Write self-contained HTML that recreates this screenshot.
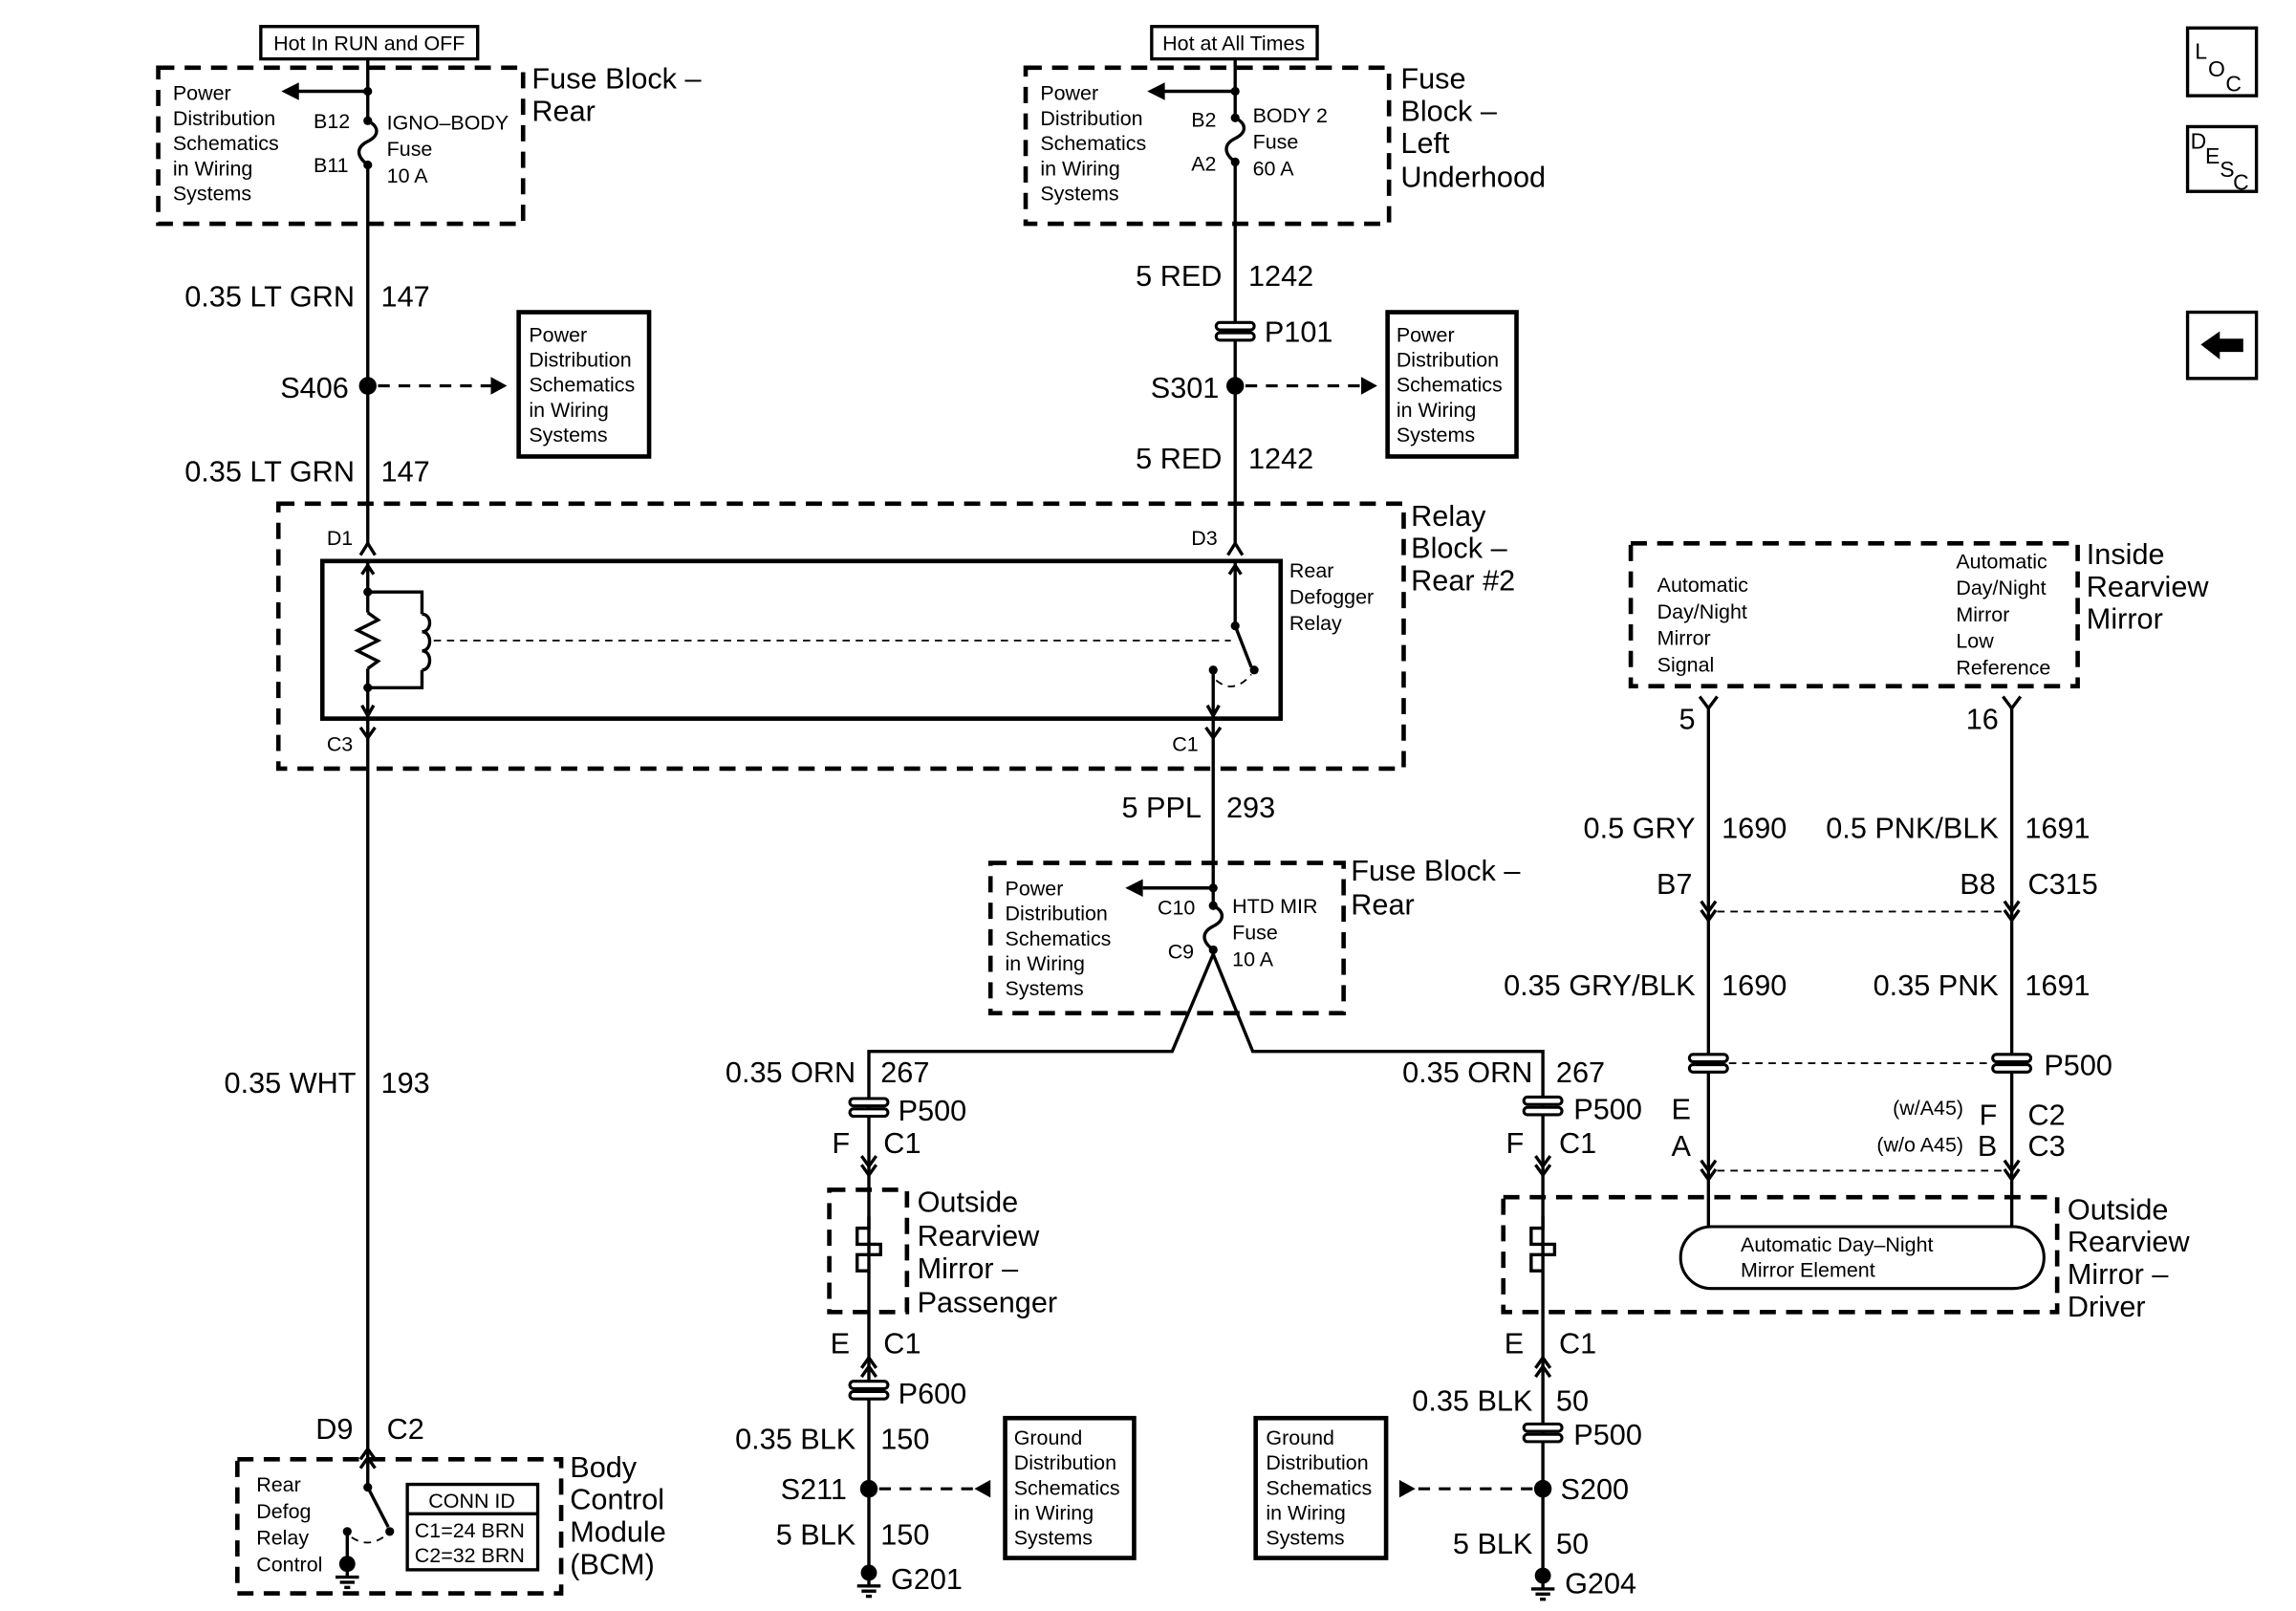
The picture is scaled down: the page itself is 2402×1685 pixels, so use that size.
<!DOCTYPE html>
<html><head><meta charset="utf-8"><style>
html,body{margin:0;padding:0;background:#fff}
svg{display:block}
text{font-family:"Liberation Sans",Arial,sans-serif;fill:#000}
.L{font-size:20px}
.S{font-size:14px}
.M{font-size:15px}
.w{stroke:#000;stroke-width:2.2;fill:none}
.d{stroke:#000;stroke-width:3;fill:none;stroke-dasharray:11 7}
.dl{stroke:#000;stroke-width:2;fill:none;stroke-dasharray:8 6}
.ds{stroke:#000;stroke-width:1.2;fill:none;stroke-dasharray:5 4}
.b{stroke:#000;stroke-width:3;fill:#fff}
.p{stroke:#000;stroke-width:2;fill:#fff}
</style></head><body>
<svg width="2402" height="1685" viewBox="0 0 1567 1094" preserveAspectRatio="none" xmlns="http://www.w3.org/2000/svg">
<defs>
<g id="pc"><rect x="-13" y="-6" width="26" height="5" rx="2.5" class="p"/><rect x="-13" y="1" width="26" height="5" rx="2.5" class="p"/></g>
<g id="cd"><polyline points="-5,-7 0,0 5,-7" class="w"/><polyline points="-5,-1 0,6 5,-1" class="w"/></g>
<g id="cu"><polyline points="-5,7 0,0 5,7" class="w"/><polyline points="-5,1 0,-6 5,1" class="w"/></g>
<g id="gnd"><circle r="5.5" cx="0" cy="0" fill="#000"/><line x1="0" y1="0" x2="0" y2="9" class="w"/><line x1="-8" y1="9" x2="8" y2="9" class="w"/><line x1="-5" y1="12.5" x2="5" y2="12.5" class="w" stroke-width="1.6"/><line x1="-2" y1="16" x2="2" y2="16" class="w" stroke-width="1.6"/></g>
</defs>

<!-- ===== Top left ===== -->
<rect x="178" y="18" width="148" height="22" class="w"/>
<text x="252" y="34" class="S" text-anchor="middle">Hot In RUN and OFF</text>
<rect x="108" y="46" width="249" height="106" class="d"/>
<text class="S" x="118" y="68">Power</text><text class="S" x="118" y="85">Distribution</text><text class="S" x="118" y="102">Schematics</text><text class="S" x="118" y="119">in Wiring</text><text class="S" x="118" y="136">Systems</text>
<line x1="251" y1="40" x2="251" y2="82" class="w"/>
<path d="M251,82 c8,4 8,10 0,14 c-8,4 -8,10 0,16" class="w"/>
<line x1="251" y1="112" x2="251" y2="370" class="w"/>
<circle cx="251" cy="62" r="3" fill="#000"/><circle cx="251" cy="82" r="3" fill="#000"/><circle cx="251" cy="112" r="3" fill="#000"/>
<line x1="251" y1="62" x2="202" y2="62" class="w"/><polygon points="192,62 204,56 204,68" fill="#000"/>
<text class="S" x="214" y="87">B12</text><text class="S" x="214" y="117">B11</text>
<text class="S" x="264" y="88">IGNO–BODY</text><text class="S" x="264" y="106">Fuse</text><text class="S" x="264" y="124">10 A</text>
<text class="L" x="363" y="60">Fuse Block –</text><text class="L" x="363" y="82">Rear</text>
<text class="L" x="242" y="208" text-anchor="end">0.35 LT GRN</text><text class="L" x="260" y="208">147</text>
<text class="L" x="238" y="270" text-anchor="end">S406</text>
<circle cx="251" cy="262" r="6" fill="#000"/>
<line x1="258" y1="262" x2="336" y2="262" class="dl"/><polygon points="346,262 335,256 335,268" fill="#000"/>
<rect x="354" y="212" width="89" height="98" class="b"/>
<text class="S" x="361" y="232">Power</text><text class="S" x="361" y="249">Distribution</text><text class="S" x="361" y="266">Schematics</text><text class="S" x="361" y="283">in Wiring</text><text class="S" x="361" y="300">Systems</text>
<text class="L" x="242" y="327" text-anchor="end">0.35 LT GRN</text><text class="L" x="260" y="327">147</text>

<!-- ===== Top middle ===== -->
<rect x="786" y="18" width="113" height="22" class="w"/>
<text x="842" y="34" class="S" text-anchor="middle">Hot at All Times</text>
<rect x="700" y="46" width="248" height="106" class="d"/>
<text class="S" x="710" y="68">Power</text><text class="S" x="710" y="85">Distribution</text><text class="S" x="710" y="102">Schematics</text><text class="S" x="710" y="119">in Wiring</text><text class="S" x="710" y="136">Systems</text>
<line x1="843" y1="40" x2="843" y2="80" class="w"/>
<path d="M843,80 c8,4 8,10 0,14 c-8,4 -8,10 0,16" class="w"/>
<line x1="843" y1="110" x2="843" y2="370" class="w"/>
<circle cx="843" cy="62" r="3" fill="#000"/><circle cx="843" cy="80" r="3" fill="#000"/><circle cx="843" cy="110" r="3" fill="#000"/>
<line x1="843" y1="62" x2="794" y2="62" class="w"/><polygon points="783,62 795,56 795,68" fill="#000"/>
<text class="S" x="813" y="86">B2</text><text class="S" x="813" y="116">A2</text>
<text class="S" x="855" y="83">BODY 2</text><text class="S" x="855" y="101">Fuse</text><text class="S" x="855" y="119">60 A</text>
<text class="L" x="956" y="60">Fuse</text><text class="L" x="956" y="82">Block –</text><text class="L" x="956" y="104">Left</text><text class="L" x="956" y="127">Underhood</text>
<text class="L" x="834" y="194" text-anchor="end">5 RED</text><text class="L" x="852" y="194">1242</text>
<use href="#pc" x="843" y="225"/><text class="L" x="863" y="232">P101</text>
<text class="L" x="832" y="270" text-anchor="end">S301</text>
<circle cx="843" cy="262" r="6" fill="#000"/>
<line x1="850" y1="262" x2="930" y2="262" class="dl"/><polygon points="940,262 929,256 929,268" fill="#000"/>
<rect x="947" y="212" width="88" height="98" class="b"/>
<text class="S" x="953" y="232">Power</text><text class="S" x="953" y="249">Distribution</text><text class="S" x="953" y="266">Schematics</text><text class="S" x="953" y="283">in Wiring</text><text class="S" x="953" y="300">Systems</text>
<text class="L" x="834" y="318" text-anchor="end">5 RED</text><text class="L" x="852" y="318">1242</text>

<!-- ===== Relay block ===== -->
<rect x="190" y="342" width="768" height="180" class="d"/>
<text class="L" x="963" y="357">Relay</text><text class="L" x="963" y="379">Block –</text><text class="L" x="963" y="401">Rear #2</text>
<text class="S" x="223" y="370">D1</text><text class="S" x="813" y="370">D3</text>
<polyline points="246,377 251,369 256,377" class="w"/><polyline points="838,377 843,369 848,377" class="w"/>
<rect x="220" y="381" width="654" height="107" fill="none" stroke="#000" stroke-width="3"/>
<line x1="251" y1="382" x2="251" y2="488" class="w"/>
<polyline points="247,390 251,384 255,390" class="w"/><polyline points="247,479 251,486 255,479" class="w"/>
<circle cx="251" cy="402" r="3" fill="#000"/><circle cx="251" cy="467" r="3" fill="#000"/>
<rect x="243" y="416" width="16" height="38" fill="#fff"/>
<polyline points="251,416 258,421 244,428 258,435 244,442 258,449 251,454" class="w"/>
<polyline points="251,402 288,402 288,467 251,467" class="w"/>
<rect x="286" y="417" width="10" height="38" fill="#fff"/>
<path d="M288,417 c7,0 7,12 0,12 c7,0 7,13 0,13 c7,0 7,13 0,13" class="w"/>
<line x1="296" y1="435" x2="840" y2="435" class="ds"/>
<line x1="843" y1="382" x2="843" y2="425" class="w"/>
<polyline points="839,390 843,384 847,390" class="w"/>
<circle cx="843" cy="425" r="3" fill="#000"/>
<line x1="843" y1="425" x2="854" y2="453" class="w"/>
<circle cx="856" cy="455" r="3" fill="#000"/>
<circle cx="828" cy="455" r="3" fill="#000"/>
<line x1="828" y1="455" x2="828" y2="488" class="w"/>
<polyline points="824,479 828,486 832,479" class="w"/>
<path d="M830,462 q12,10 24,-4" class="ds"/>
<text class="S" x="880" y="392">Rear</text><text class="S" x="880" y="410">Defogger</text><text class="S" x="880" y="428">Relay</text>
<text class="S" x="223" y="510">C3</text><text class="S" x="800" y="510">C1</text>
<polyline points="246,494 251,501 256,494" class="w"/><polyline points="823,494 828,501 833,494" class="w"/>
<line x1="251" y1="488" x2="251" y2="990" class="w"/>
<line x1="828" y1="488" x2="828" y2="603" class="w"/>

<!-- ===== left white wire + BCM ===== -->
<text class="L" x="243" y="742" text-anchor="end">0.35 WHT</text><text class="L" x="260" y="742">193</text>
<text class="L" x="241" y="977" text-anchor="end">D9</text><text class="L" x="264" y="977">C2</text>
<use href="#cu" x="251" y="990"/>
<rect x="162" y="991" width="221" height="91" class="d"/>
<text class="S" x="175" y="1013">Rear</text><text class="S" x="175" y="1031">Defog</text><text class="S" x="175" y="1049">Relay</text><text class="S" x="175" y="1067">Control</text>
<line x1="251" y1="991" x2="251" y2="1010" class="w"/>
<circle cx="251" cy="1010" r="3" fill="#000"/>
<line x1="251" y1="1010" x2="265" y2="1037" class="w"/>
<circle cx="266" cy="1040" r="3" fill="#000"/>
<circle cx="237" cy="1040" r="3" fill="#000"/>
<line x1="237" y1="1040" x2="237" y2="1062" class="w"/>
<path d="M240,1044 q12,8 24,-2" class="ds"/>
<use href="#gnd" x="237" y="1062"/>
<rect x="278" y="1008" width="89" height="58" class="w" stroke-width="2.5"/>
<line x1="278" y1="1028" x2="367" y2="1028" class="w"/>
<text class="S" x="322" y="1024" text-anchor="middle">CONN ID</text>
<text class="S" x="283" y="1044">C1=24 BRN</text><text class="S" x="283" y="1061">C2=32 BRN</text>
<text class="L" x="389" y="1003">Body</text><text class="L" x="389" y="1025">Control</text><text class="L" x="389" y="1047">Module</text><text class="L" x="389" y="1069">(BCM)</text>

<!-- ===== HTD MIR fuse block ===== -->
<text class="L" x="820" y="555" text-anchor="end">5 PPL</text><text class="L" x="837" y="555">293</text>
<rect x="676" y="586" width="241" height="102" class="d"/>
<text class="S" x="686" y="608">Power</text><text class="S" x="686" y="625">Distribution</text><text class="S" x="686" y="642">Schematics</text><text class="S" x="686" y="659">in Wiring</text><text class="S" x="686" y="676">Systems</text>
<circle cx="828" cy="603" r="3" fill="#000"/>
<line x1="828" y1="603" x2="780" y2="603" class="w"/><polygon points="768,603 780,597 780,609" fill="#000"/>
<line x1="828" y1="603" x2="828" y2="615" class="w"/>
<path d="M828,615 c8,4 8,10 0,14 c-8,4 -8,10 0,16" class="w"/>
<circle cx="828" cy="615" r="3" fill="#000"/><circle cx="828" cy="645" r="3" fill="#000"/>
<text class="S" x="790" y="621">C10</text><text class="S" x="797" y="651">C9</text>
<text class="S" x="841" y="620">HTD MIR</text><text class="S" x="841" y="638">Fuse</text><text class="S" x="841" y="656">10 A</text>
<text class="L" x="922" y="598">Fuse Block –</text><text class="L" x="922" y="621">Rear</text>
<polyline points="593,1065 593,714 800,714 828,648 855,714 1053,714 1053,1068" class="w"/>

<!-- passenger branch -->
<text class="L" x="584" y="735" text-anchor="end">0.35 ORN</text><text class="L" x="601" y="735">267</text>
<use href="#pc" x="593" y="752"/><text class="L" x="613" y="761">P500</text>
<text class="L" x="580" y="783" text-anchor="end">F</text><text class="L" x="603" y="783">C1</text>
<use href="#cd" x="593" y="792"/>
<rect x="566" y="808" width="53" height="83" class="d"/>
<path d="M593,826 V834 H585 V845 H601 V852 H585 V863 H593" class="w" fill="#fff"/>
<text class="L" x="626" y="823">Outside</text><text class="L" x="626" y="846">Rearview</text><text class="L" x="626" y="868">Mirror –</text><text class="L" x="626" y="891">Passenger</text>
<text class="L" x="580" y="919" text-anchor="end">E</text><text class="L" x="603" y="919">C1</text>
<use href="#cu" x="593" y="928"/>
<use href="#pc" x="593" y="944"/><text class="L" x="613" y="953">P600</text>
<text class="L" x="584" y="984" text-anchor="end">0.35 BLK</text><text class="L" x="601" y="984">150</text>
<text class="L" x="578" y="1018" text-anchor="end">S211</text>
<circle cx="593" cy="1011" r="6" fill="#000"/>
<line x1="600" y1="1011" x2="668" y2="1011" class="dl"/><polygon points="665,1011 676,1005 676,1017" fill="#000"/>
<rect x="686" y="963" width="88" height="95" class="b"/>
<text class="S" x="692" y="981">Ground</text><text class="S" x="692" y="998">Distribution</text><text class="S" x="692" y="1015">Schematics</text><text class="S" x="692" y="1032">in Wiring</text><text class="S" x="692" y="1049">Systems</text>
<text class="L" x="584" y="1049" text-anchor="end">5 BLK</text><text class="L" x="601" y="1049">150</text>
<use href="#gnd" x="593" y="1068"/><text class="L" x="608" y="1079">G201</text>

<!-- driver branch -->
<text class="L" x="1046" y="735" text-anchor="end">0.35 ORN</text><text class="L" x="1062" y="735">267</text>
<use href="#pc" x="1053" y="751"/><text class="L" x="1074" y="760">P500</text>
<text class="L" x="1040" y="783" text-anchor="end">F</text><text class="L" x="1064" y="783">C1</text>
<use href="#cd" x="1053" y="792"/>
<path d="M1053,826 V834 H1045 V845 H1061 V852 H1045 V863 H1053" class="w" fill="#fff"/>
<text class="L" x="1040" y="919" text-anchor="end">E</text><text class="L" x="1064" y="919">C1</text>
<use href="#cu" x="1053" y="928"/>
<text class="L" x="1046" y="958" text-anchor="end">0.35 BLK</text><text class="L" x="1062" y="958">50</text>
<use href="#pc" x="1053" y="973"/><text class="L" x="1074" y="981">P500</text>
<circle cx="1053" cy="1011" r="6" fill="#000"/>
<text class="L" x="1065" y="1018">S200</text>
<line x1="1046" y1="1011" x2="966" y2="1011" class="dl"/><polygon points="966,1011 955,1005 955,1017" fill="#000"/>
<rect x="857" y="963" width="89" height="95" class="b"/>
<text class="S" x="864" y="981">Ground</text><text class="S" x="864" y="998">Distribution</text><text class="S" x="864" y="1015">Schematics</text><text class="S" x="864" y="1032">in Wiring</text><text class="S" x="864" y="1049">Systems</text>
<text class="L" x="1046" y="1055" text-anchor="end">5 BLK</text><text class="L" x="1062" y="1055">50</text>
<use href="#gnd" x="1053" y="1070"/><text class="L" x="1068" y="1082">G204</text>

<!-- ===== Inside rearview mirror ===== -->
<rect x="1113" y="369" width="305" height="97" class="d"/>
<text class="S" x="1131" y="402">Automatic</text><text class="S" x="1131" y="420">Day/Night</text><text class="S" x="1131" y="438">Mirror</text><text class="S" x="1131" y="456">Signal</text>
<text class="S" x="1335" y="386">Automatic</text><text class="S" x="1335" y="404">Day/Night</text><text class="S" x="1335" y="422">Mirror</text><text class="S" x="1335" y="440">Low</text><text class="S" x="1335" y="458">Reference</text>
<text class="L" x="1424" y="383">Inside</text><text class="L" x="1424" y="405">Rearview</text><text class="L" x="1424" y="427">Mirror</text>
<line x1="1166" y1="480" x2="1166" y2="835" class="w"/>
<line x1="1373" y1="480" x2="1373" y2="835" class="w"/>
<polyline points="1160,473 1166,481 1172,473" class="w"/><polyline points="1367,473 1373,481 1379,473" class="w"/>
<text class="L" x="1157" y="495" text-anchor="end">5</text><text class="L" x="1364" y="495" text-anchor="end">16</text>
<text class="L" x="1157" y="569" text-anchor="end">0.5 GRY</text><text class="L" x="1175" y="569">1690</text>
<text class="L" x="1364" y="569" text-anchor="end">0.5 PNK/BLK</text><text class="L" x="1382" y="569">1691</text>
<text class="L" x="1155" y="607" text-anchor="end">B7</text><text class="L" x="1362" y="607" text-anchor="end">B8</text><text class="L" x="1384" y="607">C315</text>
<use href="#cd" x="1166" y="619"/><use href="#cd" x="1373" y="619"/>
<line x1="1172" y1="619" x2="1367" y2="619" class="ds"/>
<text class="L" x="1157" y="676" text-anchor="end">0.35 GRY/BLK</text><text class="L" x="1175" y="676">1690</text>
<text class="L" x="1364" y="676" text-anchor="end">0.35 PNK</text><text class="L" x="1382" y="676">1691</text>
<use href="#pc" x="1166" y="722"/><use href="#pc" x="1373" y="722"/>
<line x1="1180" y1="722" x2="1360" y2="722" class="ds"/>
<text class="L" x="1395" y="730">P500</text>
<text class="L" x="1154" y="760" text-anchor="end">E</text><text class="L" x="1154" y="785" text-anchor="end">A</text>
<text class="S" x="1340" y="757" text-anchor="end" font-size="13">(w/A45)</text><text class="L" x="1363" y="764" text-anchor="end">F</text>
<text class="S" x="1340" y="782" text-anchor="end" font-size="13">(w/o A45)</text><text class="L" x="1363" y="785" text-anchor="end">B</text>
<text class="L" x="1384" y="764">C2</text><text class="L" x="1384" y="785">C3</text>
<use href="#cd" x="1166" y="795"/><use href="#cd" x="1373" y="795"/>
<line x1="1172" y1="795" x2="1367" y2="795" class="ds"/>
<rect x="1026" y="813" width="378" height="78" class="d"/>
<rect x="1147" y="833" width="248" height="42" rx="21" class="p"/>
<text class="S" x="1188" y="850">Automatic Day–Night</text><text class="S" x="1188" y="867">Mirror Element</text>
<text class="L" x="1411" y="828">Outside</text><text class="L" x="1411" y="850">Rearview</text><text class="L" x="1411" y="872">Mirror –</text><text class="L" x="1411" y="894">Driver</text>

<!-- ===== Right icons ===== -->
<rect x="1493" y="19" width="47" height="46" class="w" stroke-width="3"/>
<text x="1498" y="40" class="M">L</text><text x="1507" y="52" class="M">O</text><text x="1519" y="62" class="M">C</text>
<rect x="1493" y="86" width="47" height="44" class="w" stroke-width="3"/>
<text x="1495" y="101" class="M">D</text><text x="1505" y="111" class="M">E</text><text x="1515" y="120" class="M">S</text><text x="1524" y="129" class="M">C</text>
<rect x="1493" y="212" width="47" height="45" class="w" stroke-width="3"/>
<polygon points="1502,234 1515,225 1515,230 1531,230 1531,239 1515,239 1515,244" fill="#000"/>
</svg>
</body></html>
